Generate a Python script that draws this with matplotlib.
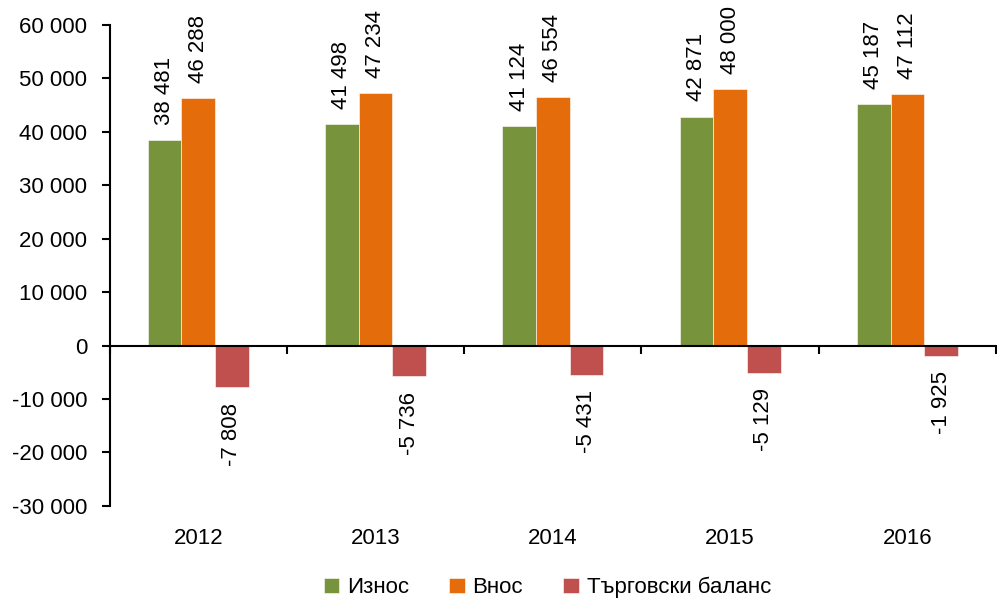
import matplotlib
matplotlib.use("Agg")
import matplotlib.pyplot as plt
import numpy as np

plt.rcParams['font.family'] = ['Liberation Sans', 'DejaVu Sans']

years = ['2012', '2013', '2014', '2015', '2016']
iznos = [38481, 41498, 41124, 42871, 45187]
vnos = [46288, 47234, 46554, 48000, 47112]
balans = [-7808, -5736, -5431, -5129, -1925]
names = ['Износ', 'Внос', 'Търговски баланс']
colors = ['#77933C', '#E46C0A', '#C0504D']
yticks = [-30000, -20000, -10000, 0, 10000, 20000, 30000, 40000, 50000, 60000]


def fmt(v):
    return '{:,}'.format(v).replace(',', ' ')


fig = plt.figure(figsize=(9.97, 6.11), dpi=100)
ax = fig.add_axes([0.110, 0.172, 0.889, 0.787])

x = np.arange(len(years))
w = 0.19
for i, (vals, c, n) in enumerate(zip([iznos, vnos, balans], colors, names)):
    bars = ax.bar(x + (i - 1) * w, vals, w, color=c, label=n, edgecolor='white', linewidth=0.4)
    for b, v in zip(bars, vals):
        off = 11 if v > 0 else -11
        ax.annotate(fmt(v), (b.get_x() + b.get_width() / 2, v), xytext=(0, off),
                    textcoords='offset points', rotation=90, ha='center',
                    va='bottom' if v > 0 else 'top', fontsize=16)

ax.set_xlim(-0.5, len(years) - 0.5)
ax.set_ylim(-30000, 60000)
ax.set_yticks(yticks)
ax.set_yticklabels([fmt(t) for t in yticks], fontsize=16)
ax.tick_params(axis='y', direction='out', length=6, width=1.5, pad=10)

ax.spines['top'].set_visible(False)
ax.spines['right'].set_visible(False)
ax.spines['left'].set_linewidth(1.5)
ax.spines['bottom'].set_position(('data', 0))
ax.spines['bottom'].set_linewidth(1.5)

ax.set_xticks(np.arange(len(years) + 1) - 0.5)
ax.set_xticklabels([])
ax.tick_params(axis='x', direction='out', length=6, width=1.5)
for xi, y in zip(x, years):
    ax.text(xi, -0.045, y, transform=ax.get_xaxis_transform(), ha='center', va='top', fontsize=16)

fig.legend(loc='lower center', bbox_to_anchor=(0.549, -0.012), ncol=3, frameon=False,
           fontsize=16, handlelength=0.7, handleheight=0.7, columnspacing=1.8, handletextpad=0.35)

fig.savefig('out.png', dpi=100)
